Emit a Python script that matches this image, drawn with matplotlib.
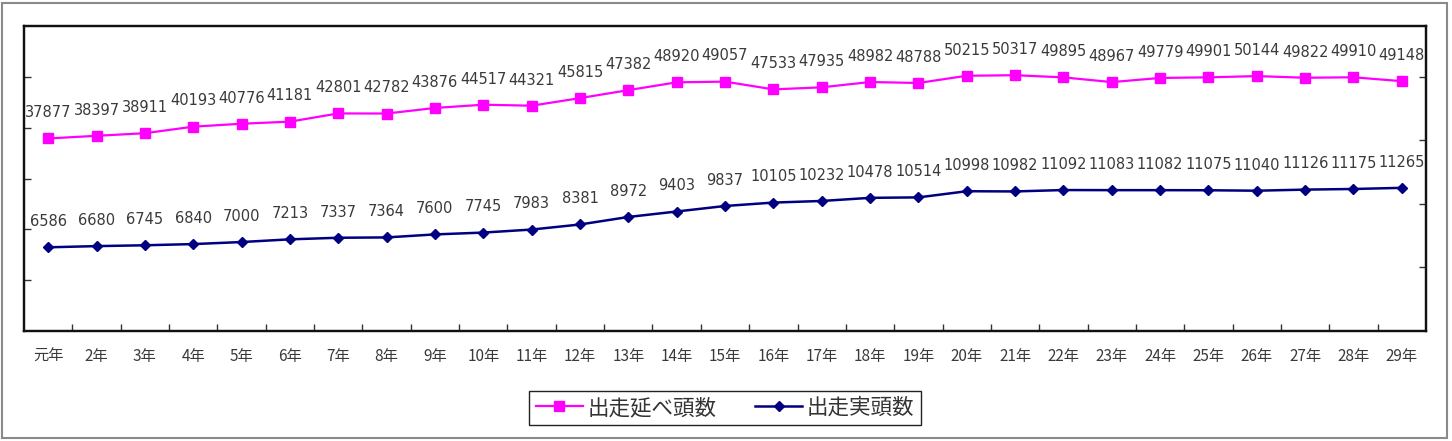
import matplotlib
matplotlib.use("Agg")
import matplotlib.pyplot as plt
from matplotlib.patches import Rectangle
from matplotlib.ticker import FixedLocator, NullFormatter

plt.rcParams['font.family'] = ['Noto Sans CJK JP', 'DejaVu Sans']

# data
years = ['元年'] + [f'{i}年' for i in range(2, 30)]
nobe = [37877, 38397, 38911, 40193, 40776, 41181, 42801, 42782, 43876, 44517,
        44321, 45815, 47382, 48920, 49057, 47533, 47935, 48982, 48788, 50215,
        50317, 49895, 48967, 49779, 49901, 50144, 49822, 49910, 49148]
jitsu = [6586, 6680, 6745, 6840, 7000, 7213, 7337, 7364, 7600, 7745,
         7983, 8381, 8972, 9403, 9837, 10105, 10232, 10478, 10514, 10998,
         10982, 11092, 11083, 11082, 11075, 11040, 11126, 11175, 11265]
x = list(range(len(years)))

fig = plt.figure(figsize=(14.52, 4.41), dpi=100)
ax = fig.add_axes([24 / 1452, 110 / 441, 1402 / 1452, 305 / 441])
ax2 = ax.twinx()

# outer frame of the chart
fig.patches.append(Rectangle((2 / 1452, 3 / 441), 1445 / 1452, 435 / 441,
                             transform=fig.transFigure, fill=False,
                             edgecolor='#8a8a8a', linewidth=1.5))

l1, = ax.plot(x, nobe, color='#ff00ff', lw=1.6, marker='s', markersize=6.5,
              label='出走延べ頭数')
l2, = ax2.plot(x, jitsu, color='#000080', lw=1.8, marker='D', markersize=5.5,
               label='出走実頭数')

for xi, v in zip(x, nobe):
    ax.annotate(str(v), (xi, v), xytext=(0, 18.5), textcoords='offset points',
                ha='center', va='center', fontsize=10.5, color='#3a3a3a',
                family='DejaVu Sans')
for xi, v in zip(x, jitsu):
    ax2.annotate(str(v), (xi, v), xytext=(0, 18.5), textcoords='offset points',
                 ha='center', va='center', fontsize=10.5, color='#3a3a3a',
                 family='DejaVu Sans')

ax.set_xlim(-0.5, len(years) - 0.5)
ax.set_ylim(0, 60000)
ax2.set_ylim(0, 24000)

# left / right axis ticks, no labels
ax.set_yticks([10000, 20000, 30000, 40000, 50000])
ax.yaxis.set_major_formatter(NullFormatter())
ax.tick_params(axis='y', direction='in', length=5, width=1, color='#333333')
ax2.set_yticks([5000, 10000, 15000, 20000])
ax2.yaxis.set_major_formatter(NullFormatter())
ax2.tick_params(axis='y', direction='in', length=5, width=1, color='#333333')

# x ticks between categories, labels at centers
ax.xaxis.set_major_locator(FixedLocator([i + 0.5 for i in range(len(years) - 1)]))
ax.xaxis.set_major_formatter(NullFormatter())
ax.xaxis.set_minor_locator(FixedLocator(x))
ax.set_xticklabels(years, minor=True)
ax.tick_params(axis='x', which='major', direction='in', length=5, width=1, color='#333333')
ax.tick_params(axis='x', which='minor', length=0, pad=12, labelsize=11, labelcolor='#3a3a3a')

for a in (ax, ax2):
    for s in a.spines.values():
        s.set_linewidth(1.6)
        s.set_color('#111111')

fig.legend([l1, l2], ['出走延べ頭数', '出走実頭数'], loc='center',
           bbox_to_anchor=(725 / 1452, 33 / 441), ncol=2, fontsize=15.5,
           frameon=True, fancybox=False, edgecolor='#222222', framealpha=1,
           handlelength=2.2, handletextpad=0.2, columnspacing=1.8,
           borderpad=0.3, borderaxespad=0, labelcolor='#333333')

fig.savefig('out.png', dpi=100)
